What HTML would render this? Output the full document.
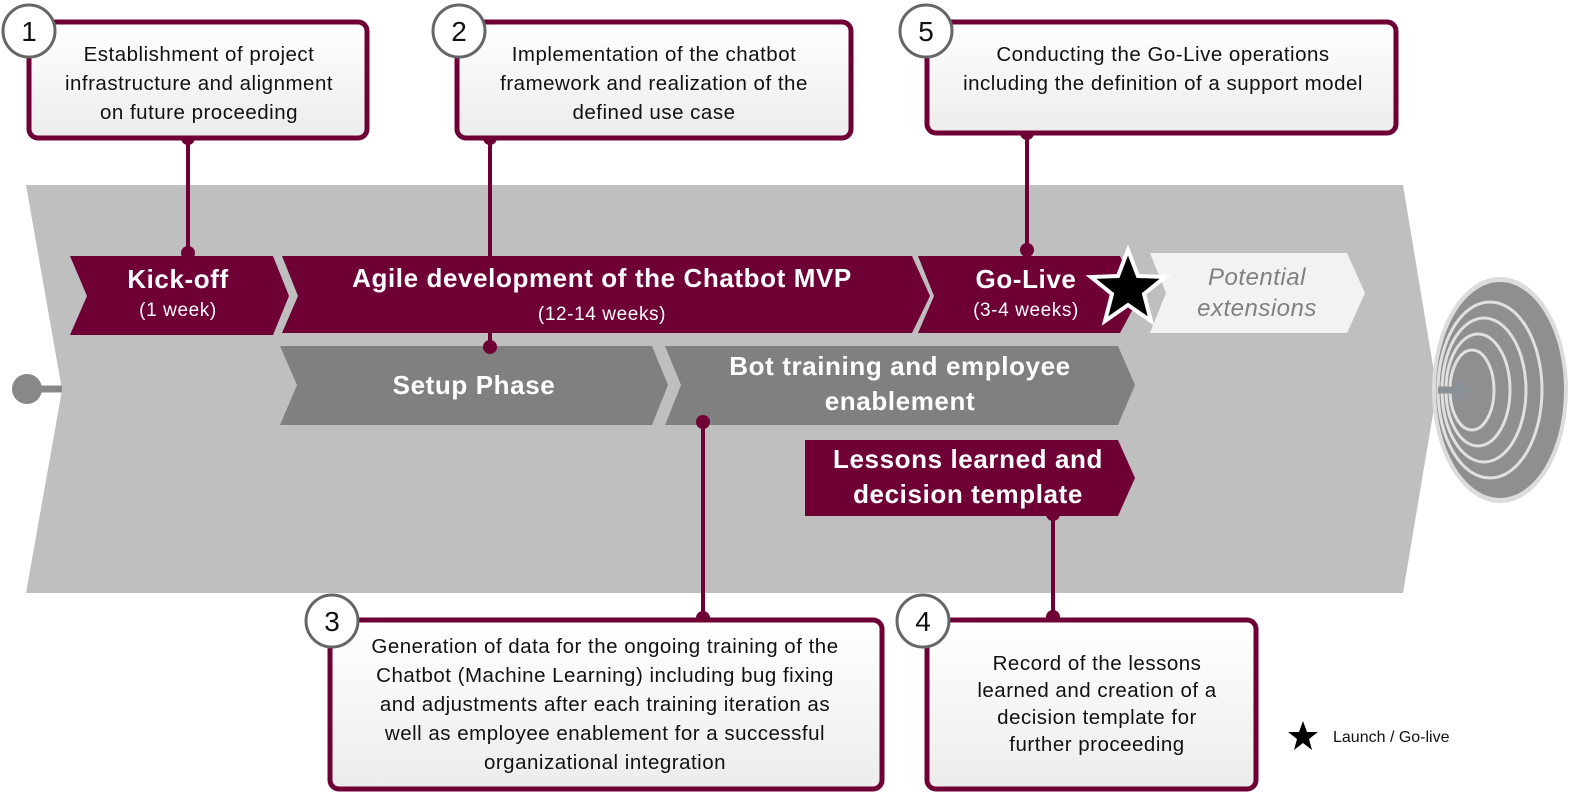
<!DOCTYPE html>
<html><head><meta charset="utf-8"><style>
body{margin:0;background:#fff;width:1587px;height:804px;overflow:hidden}
svg text{font-family:"Liberation Sans",sans-serif}
</style></head><body>
<svg width="1587" height="804" viewBox="0 0 1587 804" xmlns="http://www.w3.org/2000/svg">
<defs>
<linearGradient id="bg" x1="0" y1="0" x2="0" y2="1"><stop offset="0" stop-color="#ffffff"/><stop offset="1" stop-color="#ececec"/></linearGradient>
</defs>
<polygon points="26,185 1403,185 1437,390 1403,593 26,593 62,390" fill="#bfbfbf"/>
<line x1="27" y1="389" x2="62" y2="389" stroke="#888" stroke-width="7"/>
<circle cx="27" cy="389" r="15" fill="#888"/>
<ellipse cx="1500" cy="390" rx="68" ry="113" fill="#dcdcdc"/>
<ellipse cx="1500" cy="390" rx="64" ry="108" fill="#8f8f8f"/>
<g fill="none" stroke="#e0e0e0" stroke-width="3">
<ellipse cx="1490" cy="390" rx="52" ry="88"/>
<ellipse cx="1484" cy="390" rx="42" ry="72"/>
<ellipse cx="1478" cy="390" rx="32" ry="56"/>
<ellipse cx="1472" cy="390" rx="22" ry="40"/>
</g>
<line x1="1438" y1="390" x2="1458" y2="390" stroke="#8a9196" stroke-width="7"/>
<polygon points="1454,378 1474,390 1454,402" fill="#8a9196"/>
<!-- connectors behind chevrons -->
<g stroke="#6e0036" stroke-width="4">
<line x1="188" y1="138" x2="188" y2="253"/>
<line x1="490" y1="138" x2="490" y2="347"/>
<line x1="1027" y1="133" x2="1027" y2="250"/>
<line x1="703" y1="422" x2="703" y2="618"/>
<line x1="1053" y1="514" x2="1053" y2="617"/>
</g>
<g fill="#6e0036">
<polygon points="70,256 273,256 289,296 273,335 70,335 87,296"/>
<polygon points="282,256 912,256 930,296 912,333 282,333 298,296"/>
<polygon points="918,256 1120,256 1140,296 1120,333 918,333 934,296"/>
<polygon points="805,440 1118,440 1135,478 1118,516 805,516"/>
</g>
<polygon points="1150,253 1347,253 1365,293 1347,333 1150,333 1166,293" fill="#f2f2f2"/>
<g fill="#808080">
<polygon points="280,346 652,346 668,385 652,425 280,425 297,385"/>
<polygon points="665,346 1118,346 1135,385 1118,425 665,425 681,385"/>
</g>
<g fill="#fff" font-weight="bold" text-anchor="middle" letter-spacing="0.6">
<text x="178" y="288" font-size="26">Kick-off</text>
<text x="178" y="316" font-size="19" font-weight="normal">(1 week)</text>
<text x="602" y="287" font-size="26">Agile development of the Chatbot MVP</text>
<text x="602" y="320" font-size="19" font-weight="normal">(12-14 weeks)</text>
<text x="1026" y="288" font-size="26">Go-Live</text>
<text x="1026" y="316" font-size="19" font-weight="normal">(3-4 weeks)</text>
<text x="474" y="394" font-size="26">Setup Phase</text>
<text x="900" y="375" font-size="26">Bot training and employee</text>
<text x="900" y="410" font-size="26">enablement</text>
<text x="968" y="468" font-size="26">Lessons learned and</text>
<text x="968" y="503" font-size="26">decision template</text>
</g>
<g fill="#808080" font-style="italic" font-size="24" text-anchor="middle" letter-spacing="0.5">
<text x="1257" y="285">Potential</text>
<text x="1257" y="316">extensions</text>
</g>
<polygon points="1128,250 1138,276 1165,277 1144,294 1151,321 1128,305 1105,321 1112,294 1091,277 1118,276" fill="#000" stroke="#fff" stroke-width="4"/>
<g fill="#6e0036">
<circle cx="188" cy="138" r="7"/><circle cx="188" cy="253" r="7"/>
<circle cx="490" cy="138" r="7"/><circle cx="490" cy="347" r="7"/>
<circle cx="1027" cy="133" r="7"/><circle cx="1027" cy="250" r="7"/>
<circle cx="703" cy="422" r="7"/><circle cx="703" cy="618" r="7"/>
<circle cx="1053" cy="514" r="7"/><circle cx="1053" cy="617" r="7"/>
</g>
<g fill="url(#bg)" stroke="#6e0036" stroke-width="5">
<rect x="29" y="22" width="338" height="116" rx="9"/>
<rect x="457" y="22" width="394" height="116" rx="9"/>
<rect x="927" y="22" width="469" height="111" rx="9"/>
<rect x="330" y="620" width="552" height="169" rx="9"/>
<rect x="927" y="620" width="329" height="169" rx="9"/>
</g>
<g fill="#fff" stroke="#666" stroke-width="3">
<circle cx="29" cy="31" r="26"/><circle cx="459" cy="31" r="26"/><circle cx="926" cy="31" r="26"/>
<circle cx="332" cy="621" r="26"/><circle cx="923" cy="621" r="26"/>
</g>
<g font-size="28" text-anchor="middle" fill="#111">
<text x="29" y="41">1</text><text x="459" y="41">2</text><text x="926" y="41">5</text>
<text x="332" y="631">3</text><text x="923" y="631">4</text>
</g>
<g font-size="20.5" text-anchor="middle" fill="#111" letter-spacing="0.5">
<text x="199" y="61">Establishment of project</text>
<text x="199" y="90">infrastructure and alignment</text>
<text x="199" y="119">on future proceeding</text>
<text x="654" y="61">Implementation of the chatbot</text>
<text x="654" y="90">framework and realization of the</text>
<text x="654" y="119">defined use case</text>
<text x="1163" y="61">Conducting the Go-Live operations</text>
<text x="1163" y="90">including the definition of a support model</text>
<text x="605" y="653">Generation of data for the ongoing training of the</text>
<text x="605" y="682">Chatbot (Machine Learning) including bug fixing</text>
<text x="605" y="711">and adjustments after each training iteration as</text>
<text x="605" y="740">well as employee enablement for a successful</text>
<text x="605" y="769">organizational integration</text>
<text x="1097" y="670">Record of the lessons</text>
<text x="1097" y="697">learned and creation of a</text>
<text x="1097" y="724">decision template for</text>
<text x="1097" y="751">further proceeding</text>
</g>
<polygon points="1303,721 1307,732 1318,732 1309,739 1312,750 1303,743 1294,750 1297,739 1288,732 1299,732" fill="#000"/>
<text x="1333" y="742" font-size="16" fill="#111">Launch / Go-live</text>
</svg>
</body></html>
